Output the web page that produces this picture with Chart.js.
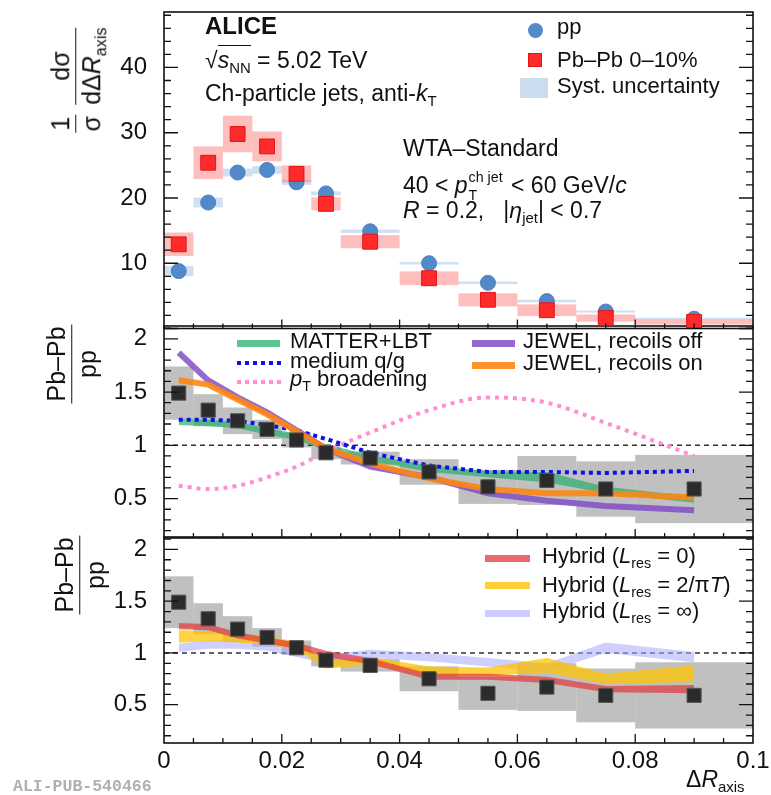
<!DOCTYPE html>
<html>
<head>
<meta charset="utf-8">
<script src="https://cdn.jsdelivr.net/npm/chart.js@4.4.1/dist/chart.umd.min.js"></script>
<style>
  body { margin: 0; background: #fff; }
  #wrap { position: relative; width: 771px; height: 795px; overflow: hidden; background: #fff; }
  canvas { position: absolute; left: 0; }
  .t { position: absolute; font-family: 'Liberation Sans', Arial, sans-serif; color: #111; white-space: nowrap; line-height: 1; z-index: 5; }
  .t sub { font-size: 0.65em; vertical-align: -0.35em; line-height: 0; }
  .ss { display: inline-flex; flex-direction: column; font-size: 0.62em; line-height: 1.25; vertical-align: middle; margin: 0 2px 0 1px; }
  .sw { position: absolute; z-index: 5; }
  .rot { position: absolute; width: 0; height: 0; z-index: 5; }
  .rot .inner { position: absolute; left: 0; top: 0; transform: translate(-50%, -50%) rotate(-90deg);
    font-family: 'Liberation Sans', Arial, sans-serif; font-size: 25px; color: #111; white-space: nowrap; line-height: 1.05; }
  .frac { display: inline-flex; flex-direction: column; align-items: stretch; text-align: center; vertical-align: middle; margin: 0 5px; }
  .frac .n { border-bottom: 1.8px solid #111; padding: 0 2px 2px; }
  .frac .d { padding-top: 2px; }
  .rot sub { font-size: 0.65em; vertical-align: -0.35em; line-height: 0; }
</style>
</head>
<body>
<div id="wrap">
  <canvas id="mid" width="771" height="260" style="top:300px"></canvas>
  <canvas id="bot" width="771" height="285" style="top:510px"></canvas>
  <canvas id="top" width="771" height="340" style="top:0px"></canvas>

  <!-- axis titles -->
  <div class="rot" style="left:76px;top:80px"><div class="inner">
    <span class="frac"><span class="n">1</span><span class="d">σ</span></span><span class="frac"><span class="n">dσ</span><span class="d">dΔ<i>R</i><sub>axis</sub></span></span>
  </div></div>
  <div class="rot" style="left:72px;top:364px"><div class="inner">
    <span class="frac"><span class="n">Pb–Pb</span><span class="d">pp</span></span>
  </div></div>
  <div class="rot" style="left:80px;top:575px"><div class="inner">
    <span class="frac"><span class="n">Pb–Pb</span><span class="d">pp</span></span>
  </div></div>
  <div class="t" style="left:686px;top:768px;font-size:23px">Δ<i>R</i><sub>axis</sub></div>
  <div class="t" style="left:13px;top:779px;font-family:'Liberation Mono',monospace;font-weight:bold;font-size:16.5px;color:#b0b0b0">ALI-PUB-540466</div>

  <!-- top panel labels -->
  <div class="t" style="left:205px;top:14px;font-size:24px;font-weight:bold">ALICE</div>
  <div class="t" style="left:205px;top:49px;font-size:23px">√<span style="border-top:1.5px solid #111;padding-top:1px"><i>s</i><sub>NN</sub></span> = 5.02 TeV</div>
  <div class="t" style="left:205px;top:82px;font-size:23px">Ch-particle jets, anti-<i>k</i><sub>T</sub></div>
  <div class="t" style="left:403px;top:137px;font-size:23px">WTA–Standard</div>
  <div class="t" style="left:403px;top:169px;font-size:23px">40 &lt; <i>p</i><span class="ss"><span>ch jet</span><span>T</span></span> &lt; 60 GeV/<i>c</i></div>
  <div class="t" style="left:403px;top:199px;font-size:23px"><i>R</i> = 0.2,&nbsp;&nbsp; |<i>η</i><sub>jet</sub>| &lt; 0.7</div>

  <div class="sw" style="left:528px;top:23px;width:15px;height:15px;border-radius:50%;background:#5189c9"></div>
  <div class="t" style="left:557px;top:16px;font-size:22px">pp</div>
  <div class="sw" style="left:528px;top:53px;width:14px;height:14px;background:#ff2b2b;box-shadow:inset 0 0 0 1px #e01515"></div>
  <div class="t" style="left:557px;top:49px;font-size:22px">Pb–Pb 0–10%</div>
  <div class="sw" style="left:520px;top:78px;width:28px;height:20px;background:rgb(203,220,239)"></div>
  <div class="t" style="left:557px;top:75px;font-size:22px">Syst. uncertainty</div>

  <!-- middle panel legend -->
  <div class="sw" style="left:237px;top:340px;width:43px;height:7px;background:rgba(40,175,110,0.75)"></div>
  <div class="t" style="left:290px;top:330px;font-size:22px">MATTER+LBT</div>
  <div class="sw" style="left:237px;top:361px;width:44px;height:4px;background:repeating-linear-gradient(90deg,#0a14e6 0 4px,transparent 4px 8px)"></div>
  <div class="t" style="left:290px;top:350px;font-size:22px">medium q/g</div>
  <div class="sw" style="left:237px;top:380px;width:44px;height:4px;background:repeating-linear-gradient(90deg,#ff8fcf 0 4px,transparent 4px 8px)"></div>
  <div class="t" style="left:290px;top:368px;font-size:22px"><i>p</i><sub>T</sub> broadening</div>
  <div class="sw" style="left:472px;top:340px;width:43px;height:7px;background:rgba(130,80,200,0.85)"></div>
  <div class="t" style="left:523px;top:330px;font-size:22px">JEWEL, recoils off</div>
  <div class="sw" style="left:472px;top:362px;width:43px;height:7px;background:rgba(255,135,20,0.9)"></div>
  <div class="t" style="left:523px;top:352px;font-size:22px">JEWEL, recoils on</div>

  <!-- bottom panel legend -->
  <div class="sw" style="left:485px;top:555px;width:45px;height:7px;background:rgba(225,55,60,0.75)"></div>
  <div class="t" style="left:542px;top:545px;font-size:22px">Hybrid (<i>L</i><sub>res</sub> = 0)</div>
  <div class="sw" style="left:485px;top:582px;width:45px;height:7px;background:rgba(255,195,0,0.8)"></div>
  <div class="t" style="left:542px;top:574px;font-size:22px">Hybrid (<i>L</i><sub>res</sub> = 2/π<i>T</i>)</div>
  <div class="sw" style="left:485px;top:610px;width:45px;height:7px;background:rgba(170,170,255,0.6)"></div>
  <div class="t" style="left:542px;top:600px;font-size:22px">Hybrid (<i>L</i><sub>res</sub> = ∞)</div>
</div>

<script>
// bins in delta R_axis
const binLo = [0, 0.005, 0.01, 0.015, 0.02, 0.025, 0.03, 0.04, 0.05, 0.06, 0.07, 0.08];
const binHi = [0.005, 0.01, 0.015, 0.02, 0.025, 0.03, 0.04, 0.05, 0.06, 0.07, 0.08, 0.1];
const binCenters = [0.0025, 0.0075, 0.0125, 0.0175, 0.0225, 0.0275, 0.035, 0.045, 0.055, 0.065, 0.075, 0.09];

// top panel: 1/sigma dsigma/dDeltaR
const ppValues = [8.8, 19.3, 23.9, 24.3, 22.4, 20.7, 14.9, 10.0, 7.0, 4.2, 2.6, 1.5];
const ppSyst = [0.8, 0.75, 0.6, 0.6, 0.4, 0.3, 0.25, 0.2, 0.2, 0.2, 0.15, 0.15];
const pbpbValues = [12.9, 25.4, 29.8, 27.9, 23.7, 19.1, 13.3, 7.7, 4.4, 2.8, 1.6, 1.0];
const pbpbSyst = [1.8, 2.5, 2.8, 2.3, 1.3, 1.0, 1.0, 1.05, 1.0, 0.9, 0.55, 0.4];

// ratio Pb-Pb / pp
const ratioValues = [1.49, 1.33, 1.23, 1.15, 1.05, 0.93, 0.88, 0.75, 0.61, 0.67, 0.59, 0.59];
const ratioSyst = [0.25, 0.15, 0.125, 0.09, 0.07, 0.06, 0.06, 0.12, 0.16, 0.23, 0.26, 0.32];

// models, middle panel
const matterLbt = [1.22, 1.21, 1.19, 1.13, 1.08, 0.98, 0.88, 0.78, 0.73, 0.70, 0.58, 0.49];
const matterLbtErr = [0.03, 0.03, 0.03, 0.03, 0.03, 0.03, 0.03, 0.03, 0.03, 0.05, 0.03, 0.03];
const mediumQG = [1.24, 1.24, 1.23, 1.19, 1.14, 1.06, 0.93, 0.81, 0.75, 0.75, 0.74, 0.76];
const ptBroadening = [0.62, 0.59, 0.62, 0.70, 0.80, 0.94, 1.12, 1.33, 1.45, 1.40, 1.21, 0.90];
const jewelOff = [1.87, 1.61, 1.45, 1.31, 1.14, 0.97, 0.80, 0.70, 0.55, 0.48, 0.43, 0.39];
const jewelOn = [1.61, 1.57, 1.43, 1.29, 1.13, 0.97, 0.83, 0.69, 0.59, 0.55, 0.55, 0.51];

// models, bottom panel
const hybridZero = [1.26, 1.25, 1.17, 1.12, 1.07, 0.99, 0.92, 0.77, 0.77, 0.74, 0.65, 0.65];
const hybridZeroErr = [0.03, 0.03, 0.03, 0.03, 0.03, 0.03, 0.03, 0.03, 0.03, 0.03, 0.03, 0.04];
const hybridMid = [1.16, 1.16, 1.14, 1.12, 1.07, 0.89, 0.92, 0.83, 0.82, 0.88, 0.75, 0.80];
const hybridMidErr = [0.06, 0.05, 0.04, 0.04, 0.04, 0.04, 0.04, 0.04, 0.04, 0.07, 0.05, 0.08];
const hybridInf = [1.05, 1.08, 1.08, 1.06, 1.00, 0.94, 0.99, 0.96, 0.91, 0.86, 1.05, 0.96];
const hybridInfErr = [0.04, 0.04, 0.04, 0.04, 0.04, 0.04, 0.04, 0.04, 0.04, 0.04, 0.05, 0.05];

const xRange = [0, 0.1];
const unity = 1;

Chart.defaults.font.family = "'Liberation Sans', Arial, sans-serif";
Chart.defaults.color = '#111';

const pts = (ys, shift = []) => binCenters.map((x, i) => ({ x: x, y: ys[i] + (shift[i] || 0) }));
const neg = (arr) => arr.map(v => -v);
const isMult = (v, step) => Math.abs(v / step - Math.round(v / step)) < 1e-6;

function systBoxes(sets) {
    return {
        id: 'systBoxes',
        beforeDatasetsDraw(chart) {
            const { ctx, chartArea: a, scales: { x, y } } = chart;
            ctx.save();
            ctx.beginPath();
            ctx.rect(a.left, a.top, a.width, a.height);
            ctx.clip();
            sets.forEach((s) => {
                ctx.fillStyle = s.color;
                binLo.forEach((lo, i) => {
                    const x0 = x.getPixelForValue(lo);
                    const x1 = x.getPixelForValue(binHi[i]);
                    const y0 = y.getPixelForValue(s.values[i] + s.err[i]);
                    const y1 = y.getPixelForValue(s.values[i] - s.err[i]);
                    ctx.fillRect(x0, y0, x1 - x0, y1 - y0);
                });
            });
            ctx.restore();
        }
    };
}

function frame(yMajor, yMinor) {
    return {
        id: 'frame',
        afterDatasetsDraw(chart) {
            const { ctx, chartArea: a, scales: { x, y } } = chart;
            ctx.save();
            ctx.strokeStyle = '#111';
            ctx.lineWidth = 1.3;
            ctx.beginPath();
            for (let k = Math.ceil(y.min / yMinor - 1e-9); k * yMinor <= y.max + 1e-9; k++) {
                const v = k * yMinor;
                const len = isMult(v, yMajor) ? 14 : 7;
                const py = y.getPixelForValue(v);
                ctx.moveTo(a.left, py); ctx.lineTo(a.left + len, py);
                ctx.moveTo(a.right, py); ctx.lineTo(a.right - len, py);
            }
            for (let k = 1; k * 0.005 < x.max - 1e-9; k++) {
                const v = k * 0.005;
                const len = isMult(v, 0.02) ? 9 : 5;
                const px = x.getPixelForValue(v);
                ctx.moveTo(px, a.bottom); ctx.lineTo(px, a.bottom - len);
            }
            ctx.stroke();
            ctx.lineWidth = 1.6;
            ctx.strokeRect(a.left, a.top, a.width, a.height);
            ctx.restore();
        }
    };
}

function baseOptions(yMin, yMax, yStep, yLabel, pad, showX) {
    const xScale = {
        type: 'linear', min: xRange[0], max: xRange[1], display: showX,
        grid: { display: false }, border: { display: false },
        ticks: { stepSize: 0.02, padding: -4, font: { size: 24 }, maxRotation: 0,
            callback: (v) => isMult(v, 0.02) ? String(+v.toFixed(2)) : '' }
    };
    if (showX) {
        xScale.afterFit = (s) => { s.height = 52; };
    }
    return {
        responsive: false,
        animation: false,
        events: [],
        layout: { padding: pad },
        plugins: { legend: { display: false }, tooltip: { enabled: false } },
        scales: {
            x: xScale,
            y: {
                min: yMin, max: yMax,
                grid: { display: false }, border: { display: false },
                ticks: { stepSize: yStep, includeBounds: false, padding: 9, font: { size: 24 }, callback: yLabel },
                afterFit: (s) => { s.width = 164; s.paddingTop = 0; s.paddingBottom = 0; }
            }
        }
    };
}

const ratioLabel = (v) => isMult(v, 0.5) ? String(+v.toFixed(1)) : '';
const topLabel = (v) => (isMult(v, 10) && v > 0) ? String(Math.round(v)) : '';

// top: distributions
new Chart(document.getElementById('top'), {
    type: 'line',
    data: {
        datasets: [
            { data: pts(pbpbValues), showLine: false, pointStyle: 'rect', pointRadius: 10.5,
              backgroundColor: '#ff2b2b', borderColor: '#e01515', borderWidth: 1 },
            { data: pts(ppValues), showLine: false, pointStyle: 'circle', pointRadius: 7.5,
              backgroundColor: '#5189c9', borderColor: '#4a80c0', borderWidth: 1 }
        ]
    },
    options: baseOptions(0, 48.5, 10, topLabel, { top: 12, right: 18, bottom: 3.5, left: 0 }, false),
    plugins: [systBoxes([
        { values: ppValues, err: ppSyst, color: 'rgba(150,185,225,0.45)' },
        { values: pbpbValues, err: pbpbSyst, color: 'rgba(255,110,110,0.45)' }
    ]), frame(10, 2)]
});

// middle: ratio with JEWEL / MATTER+LBT / medium q/g / pT broadening
new Chart(document.getElementById('mid'), {
    type: 'line',
    data: {
        datasets: [
            { data: pts(ratioValues), showLine: false, pointStyle: 'rect', pointRadius: 10,
              backgroundColor: '#2b2b2b', borderColor: '#555', borderWidth: 1 },
            { data: pts(jewelOn), borderColor: 'rgba(255,135,20,0.9)', borderWidth: 6, pointRadius: 0 },
            { data: pts(jewelOff), borderColor: 'rgba(130,80,200,0.85)', borderWidth: 6, pointRadius: 0 },
            { data: pts(mediumQG), borderColor: '#0a14e6', borderWidth: 4, borderDash: [4, 4], pointRadius: 0 },
            { data: pts(ptBroadening), borderColor: '#ff8fcf', borderWidth: 4, borderDash: [4, 5], pointRadius: 0,
              cubicInterpolationMode: 'monotone' },
            { data: pts(matterLbt, matterLbtErr), borderWidth: 0, pointRadius: 0, fill: '+1',
              backgroundColor: 'rgba(40,175,110,0.7)' },
            { data: pts(matterLbt, neg(matterLbtErr)), borderWidth: 0, pointRadius: 0, fill: false },
            { data: xRange.map(x => ({ x: x, y: unity })), borderColor: '#333', borderWidth: 1.5,
              borderDash: [5, 4], pointRadius: 0 }
        ]
    },
    options: baseOptions(0.13, 2.12, 0.5, ratioLabel, { top: 26, right: 18, bottom: 22, left: 0 }, false),
    plugins: [systBoxes([{ values: ratioValues, err: ratioSyst, color: 'rgba(140,140,140,0.55)' }]), frame(0.5, 0.1)]
});

// bottom: ratio with Hybrid model
new Chart(document.getElementById('bot'), {
    type: 'line',
    data: {
        datasets: [
            { data: pts(ratioValues), showLine: false, pointStyle: 'rect', pointRadius: 10,
              backgroundColor: '#2b2b2b', borderColor: '#555', borderWidth: 1 },
            { data: pts(hybridZero, hybridZeroErr), borderWidth: 0, pointRadius: 0, fill: '+1',
              backgroundColor: 'rgba(225,55,60,0.7)' },
            { data: pts(hybridZero, neg(hybridZeroErr)), borderWidth: 0, pointRadius: 0, fill: false },
            { data: pts(hybridMid, hybridMidErr), borderWidth: 0, pointRadius: 0, fill: '+1',
              backgroundColor: 'rgba(255,195,0,0.75)' },
            { data: pts(hybridMid, neg(hybridMidErr)), borderWidth: 0, pointRadius: 0, fill: false },
            { data: pts(hybridInf, hybridInfErr), borderWidth: 0, pointRadius: 0, fill: '+1',
              backgroundColor: 'rgba(170,170,255,0.55)' },
            { data: pts(hybridInf, neg(hybridInfErr)), borderWidth: 0, pointRadius: 0, fill: false },
            { data: xRange.map(x => ({ x: x, y: unity })), borderColor: '#333', borderWidth: 1.5,
              borderDash: [5, 4], pointRadius: 0 }
        ]
    },
    options: baseOptions(0.13, 2.12, 0.5, ratioLabel, { top: 27, right: 18, bottom: 0, left: 0 }, true),
    plugins: [systBoxes([{ values: ratioValues, err: ratioSyst, color: 'rgba(140,140,140,0.55)' }]), frame(0.5, 0.1)]
});
</script>
</body>
</html>
